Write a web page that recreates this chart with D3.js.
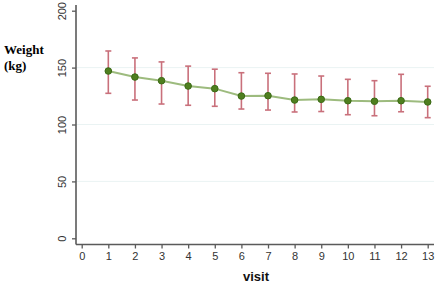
<!DOCTYPE html>
<html>
<head>
<meta charset="utf-8">
<script src="https://cdn.jsdelivr.net/npm/d3@7"></script>
<style>
  body { margin: 0; background: #fff; }
  svg { display: block; }
</style>
</head>
<body>
<div id="chart"></div>
<script>
// data
let visits = [1, 2, 3, 4, 5, 6, 7, 8, 9, 10, 11, 12, 13];
let meanWeight = [147.0, 141.7, 138.5, 133.8, 131.5, 125.0, 125.3, 121.5, 122.1, 120.9, 120.4, 120.9, 119.8];
let upperWeight = [164.6, 158.5, 155.0, 151.3, 148.6, 145.5, 145.0, 144.4, 142.6, 139.7, 138.5, 144.1, 133.6];
let lowerWeight = [127.4, 121.5, 118.0, 116.9, 116.0, 113.6, 112.7, 111.0, 111.4, 108.6, 107.7, 111.2, 106.0];
let xTicks = d3.range(0, 14);
let yTicks = [0, 50, 100, 150, 200];

let dataChart = visits.map((v, i) => ({
  visit: v, mean: meanWeight[i], hi: upperWeight[i], lo: lowerWeight[i]
}));

const width = 438;
const height = 285;

const svg = d3.select("#chart")
  .append("svg")
  .attr("width", width)
  .attr("height", height);

const xScale = d3.scaleLinear().domain([0, 13]).range([81.7, 427.7]);
const yScale = d3.scaleLinear().domain([0, 200]).range([238.3, 10.7]);

const axisX0 = 76;
const axisY0 = 244.5;
const axisColor = "#5a5a5a";

// gridlines
svg.append("g")
  .selectAll("line")
  .data([50, 100, 150])
  .enter()
  .append("line")
  .attr("x1", axisX0)
  .attr("x2", 434)
  .attr("y1", d => yScale(d))
  .attr("y2", d => yScale(d))
  .attr("stroke", "#eaf3f3")
  .attr("stroke-width", 1);

// y axis
const yAxis = d3.axisLeft(yScale).tickValues(yTicks).tickSize(4).tickPadding(4);
const gy = svg.append("g")
  .attr("transform", `translate(${axisX0},0)`)
  .call(yAxis);
gy.select(".domain").remove();
gy.selectAll(".tick line").attr("stroke", axisColor).attr("stroke-width", 1.3);
gy.selectAll(".tick text")
  .attr("transform", "rotate(-90)")
  .attr("x", 0)
  .attr("y", -10)
  .attr("dy", "0")
  .attr("text-anchor", "middle")
  .attr("fill", "#333")
  .style("font-family", "Arial, 'Liberation Sans', sans-serif")
  .style("font-size", "11px");
svg.append("line")
  .attr("x1", axisX0).attr("x2", axisX0)
  .attr("y1", 5).attr("y2", axisY0)
  .attr("stroke", axisColor).attr("stroke-width", 1.6);

// x axis
const xAxis = d3.axisBottom(xScale).tickValues(xTicks).tickSize(4).tickPadding(4).tickFormat(d3.format("d"));
const gx = svg.append("g")
  .attr("transform", `translate(0,${axisY0})`)
  .call(xAxis);
gx.select(".domain").remove();
gx.selectAll(".tick line").attr("stroke", axisColor).attr("stroke-width", 1.3);
gx.selectAll(".tick text")
  .attr("fill", "#333")
  .style("font-family", "Arial, 'Liberation Sans', sans-serif")
  .style("font-size", "11px");
svg.append("line")
  .attr("x1", axisX0).attr("x2", 434)
  .attr("y1", axisY0).attr("y2", axisY0)
  .attr("stroke", axisColor).attr("stroke-width", 1.6);

// error bars
const errColor = "#c9707b";
const bars = svg.append("g")
  .selectAll("g")
  .data(dataChart)
  .enter()
  .append("g");
bars.append("line")
  .attr("x1", d => xScale(d.visit)).attr("x2", d => xScale(d.visit))
  .attr("y1", d => yScale(d.hi)).attr("y2", d => yScale(d.lo))
  .attr("stroke", errColor).attr("stroke-width", 1.6);
bars.append("line")
  .attr("x1", d => xScale(d.visit) - 3).attr("x2", d => xScale(d.visit) + 3)
  .attr("y1", d => yScale(d.hi)).attr("y2", d => yScale(d.hi))
  .attr("stroke", errColor).attr("stroke-width", 1.6);
bars.append("line")
  .attr("x1", d => xScale(d.visit) - 3).attr("x2", d => xScale(d.visit) + 3)
  .attr("y1", d => yScale(d.lo)).attr("y2", d => yScale(d.lo))
  .attr("stroke", errColor).attr("stroke-width", 1.6);

// mean line
const line = d3.line()
  .x(d => xScale(d.visit))
  .y(d => yScale(d.mean));
svg.append("path")
  .datum(dataChart)
  .attr("d", line)
  .attr("fill", "none")
  .attr("stroke", "#9dbb7e")
  .attr("stroke-width", 2);

svg.append("g")
  .selectAll("circle")
  .data(dataChart)
  .enter()
  .append("circle")
  .attr("cx", d => xScale(d.visit))
  .attr("cy", d => yScale(d.mean))
  .attr("r", 3.3)
  .attr("fill", "#4f7f1f")
  .attr("stroke", "#3b6a16")
  .attr("stroke-width", 1);

// axis titles
const yTitle = svg.append("text")
  .attr("x", 4)
  .attr("y", 54)
  .attr("fill", "#000")
  .style("font-family", "'Liberation Serif', 'Times New Roman', serif")
  .style("font-weight", "bold")
  .style("font-size", "13px");
yTitle.append("tspan").attr("x", 4).attr("y", 54).text("Weight");
yTitle.append("tspan").attr("x", 4).attr("y", 70).text("(kg)");

svg.append("text")
  .attr("x", 256)
  .attr("y", 281)
  .attr("text-anchor", "middle")
  .attr("fill", "#111")
  .style("font-family", "Arial, 'Liberation Sans', sans-serif")
  .style("font-weight", "bold")
  .style("font-size", "13px")
  .text("visit");
</script>
</body>
</html>
